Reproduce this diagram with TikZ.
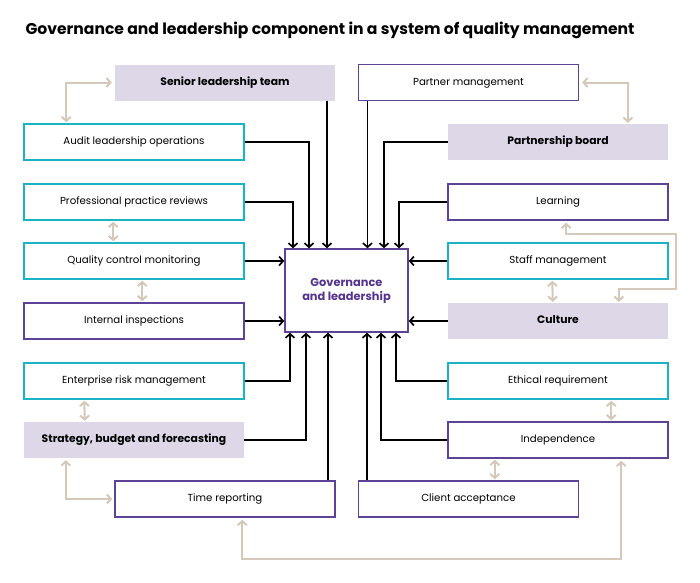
\documentclass[tikz,border=0pt]{standalone}
\usepackage{fontspec}
\setmainfont{Poppins}
\usepackage{tikz}
\usetikzlibrary{arrows.meta}
\definecolor{teal}{RGB}{27,178,196}
\definecolor{purple}{RGB}{94,66,150}
\definecolor{lavender}{RGB}{221,215,232}
\definecolor{beige}{RGB}{212,201,184}
\definecolor{govtext}{RGB}{84,52,140}

\begin{document}
\begin{tikzpicture}[x=1pt,y=-1pt,
    box/.style={minimum width=220pt,minimum height=36pt,inner sep=0pt,text height=7.5pt,text depth=2pt,
        font=\fontsize{10.2}{12}\selectfont},
    tealbox/.style={box,draw=teal,line width=1.5pt},
    purplebox/.style={box,draw=purple,line width=1.5pt},
    lavbox/.style={box,fill=lavender,font=\fontsize{10.8}{12}\selectfont\bfseries},
    link/.style={->,line width=1.7pt},
    both/.style={<->,draw=beige,line width=2pt},
    >={Straight Barb[length=4pt,width=9pt]}]
                \useasboundingbox (0,0) rectangle (700,582);
                \node[anchor=west,font=\fontsize{15.6}{18}\selectfont\bfseries] (title) at (22,30)
                    {Governance and leadership component in a system of quality management};

                % Centre
                \node[draw=purple,line width=1.5pt,minimum width=123pt,minimum height=83pt,align=center,
                      text=govtext,font=\fontsize{11.4}{14}\selectfont\bfseries] (gov) at (346.5,290.5)
                    {Governance\\and leadership};

                % Top row
                \node[lavbox] (senior) at (225,82.5) {Senior leadership team};
                \node[purplebox] (partner) at (468.5,82.5) {Partner management};

                % Left column
                \node[tealbox] (audit) at (134,142) {Audit leadership operations};
                \node[tealbox] (prof) at (134,202) {Professional practice reviews};
                \node[tealbox] (qcm) at (134,261) {Quality control monitoring};
                \node[purplebox] (inspect) at (134,321) {Internal inspections};
                \node[tealbox] (erm) at (134,381) {Enterprise risk management};
                \node[lavbox] (strategy) at (134,440) {Strategy, budget and forecasting};

                % Right column
                \node[lavbox] (board) at (558,142) {Partnership board};
                \node[purplebox] (learning) at (558,202) {Learning};
                \node[tealbox] (staff) at (558,261) {Staff management};
                \node[lavbox] (culture) at (558,321) {Culture};
                \node[tealbox] (ethical) at (558,381) {Ethical requirement};
                \node[purplebox] (indep) at (558,440) {Independence};

                % Bottom row
                \node[purplebox] (time) at (225,499) {Time reporting};
                \node[purplebox] (client) at (468.5,499) {Client acceptance};

                % into the top of the centre
                \draw[link] (prof.east) -| ([xshift=-53.5pt]gov.north);
                \draw[link] (audit.east) -| ([xshift=-37.5pt]gov.north);
                \draw[link] ([xshift=-19.5pt]gov.north |- senior.south) -- ([xshift=-19.5pt]gov.north);
                \draw[link] ([xshift=21pt]gov.north |- partner.south) -- ([xshift=21pt]gov.north);
                \draw[link] (board.west) -| ([xshift=37.5pt]gov.north);
                \draw[link] (learning.west) -| ([xshift=52.5pt]gov.north);

                % into the sides
                \draw[link] (qcm.east) -- (qcm.east -| gov.west);
                \draw[link] (inspect.east) -- (inspect.east -| gov.west);
                \draw[link] (staff.west) -- (staff.west -| gov.east);
                \draw[link] (culture.west) -- (culture.west -| gov.east);

                % into the bottom of the centre
                \draw[link] (erm.east) -| ([xshift=-56.5pt]gov.south);
                \draw[link] (strategy.east) -| ([xshift=-40.5pt]gov.south);
                \draw[link] ([xshift=-18.5pt]gov.south |- time.north) -- ([xshift=-18.5pt]gov.south);
                \draw[link] ([xshift=20.5pt]gov.south |- client.north) -- ([xshift=20.5pt]gov.south);
                \draw[link] (indep.west) -| ([xshift=34.5pt]gov.south);
                \draw[link] (ethical.west) -| ([xshift=49.5pt]gov.south);

                % beige links, left
                \draw[both,shorten <=3pt,shorten >=1pt] (senior.west) -| ([xshift=43pt]audit.north west);
                \draw[both,shorten <=1pt,shorten >=1pt] ([xshift=90pt]prof.south west) -- ([xshift=90pt]qcm.north west);
                \draw[both,shorten <=1pt,shorten >=1pt] ([xshift=119pt]qcm.south west) -- ([xshift=119pt]inspect.north west);
                \draw[both,shorten <=1pt,shorten >=1pt] ([xshift=61pt]erm.south west) -- ([xshift=61pt]strategy.north west);
                \draw[both,shorten <=2pt,shorten >=2pt] ([xshift=42pt]strategy.south west) |- (time.west);

                % beige links, right
                \draw[both,shorten <=3pt,shorten >=1pt] (partner.east) -| ([xshift=180pt]board.north west);
                \draw[both,shorten <=1pt,shorten >=1pt] ([xshift=105pt]staff.south west) -- ([xshift=105pt]culture.north west);
                \draw[both,shorten <=2pt,shorten >=1pt] ([xshift=119pt]learning.south west) -- ++(0,13) -| (676,289) -| ([xshift=171pt]culture.north west);
                \draw[both,shorten <=1pt,shorten >=1pt] ([xshift=164pt]ethical.south west) -- ([xshift=164pt]indep.north west);
                \draw[both,shorten <=1pt,shorten >=1pt] ([xshift=137pt]client.north west) -- ([xshift=137pt]client.north west |- indep.south);
                \draw[both,shorten <=2pt,shorten >=2pt] ([xshift=128pt]time.south west) -- ++(0,41) -| ([xshift=174pt]indep.south west);

            \end{tikzpicture}
\end{document}
